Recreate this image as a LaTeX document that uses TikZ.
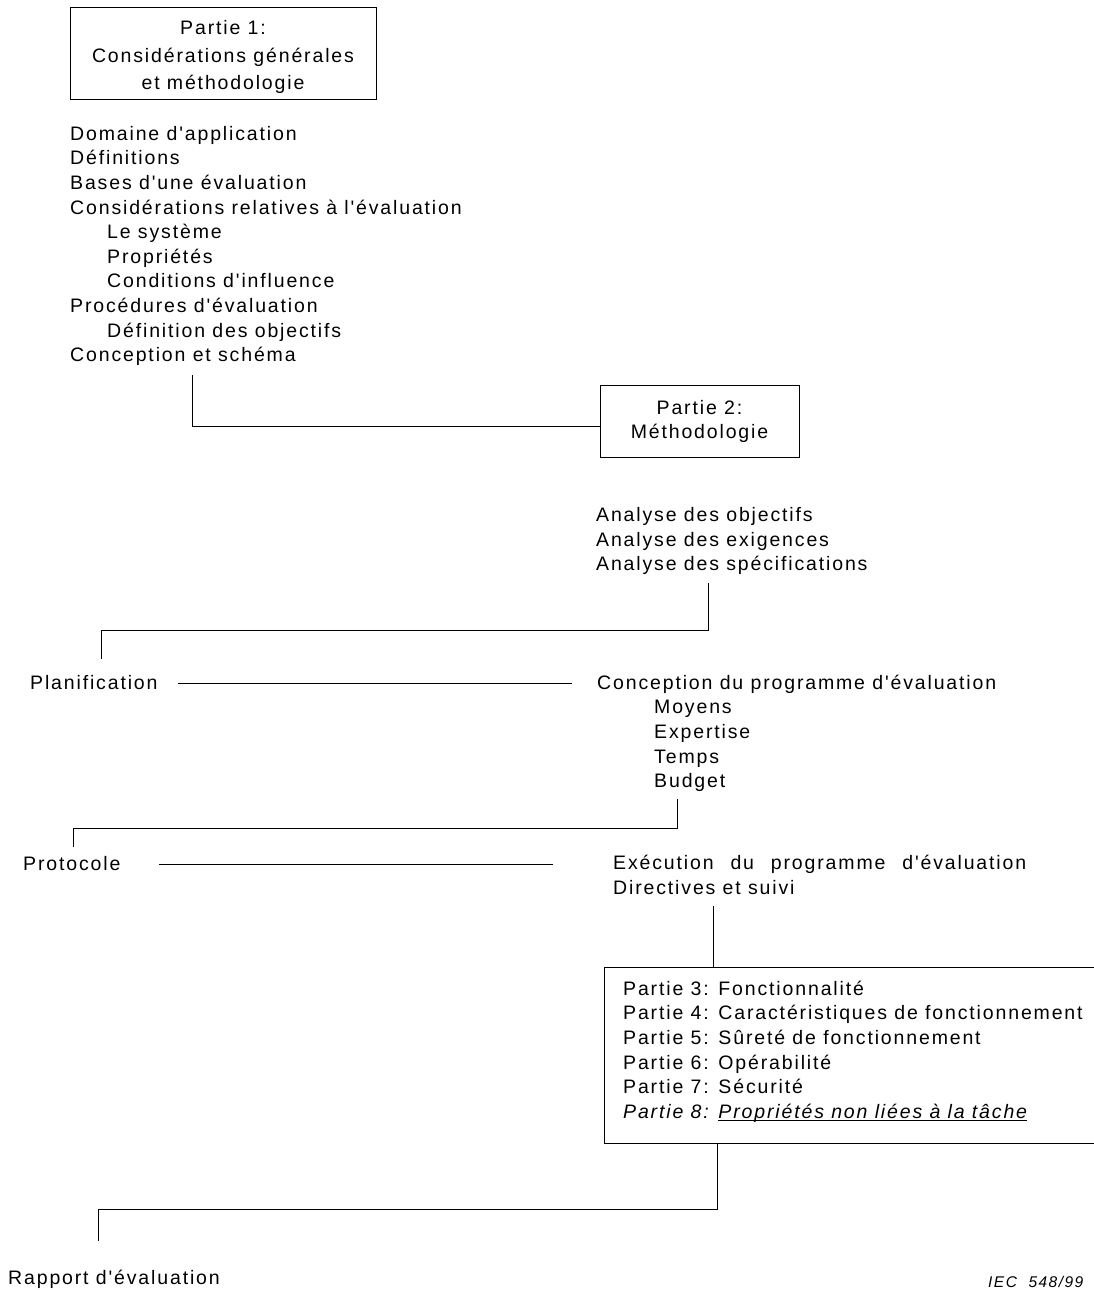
\documentclass[tikz,border=0pt]{standalone}
\usepackage{fontspec}
\setmainfont{Liberation Sans}[LetterSpace=9.5, Ligatures={TeXOff,CommonOff}]
\newcommand\txt{\fontsize{19.5pt}{24.6pt}\selectfont}
\newcommand\boxtxt{\fontsize{19.5pt}{27.2pt}\selectfont}
\newcommand\boxtxtb{\fontsize{19.5pt}{24pt}\selectfont}
\newcommand\iectxt{\fontsize{15.5pt}{18pt}\selectfont}
\newsavebox\myulbox
\newcommand\myul[1]{\sbox\myulbox{#1}\rlap{\rule[-2.8pt]{\wd\myulbox}{0.9pt}}\usebox\myulbox}
\begin{document}
\begin{tikzpicture}[x=1pt,y=-1pt,
  every node/.style={inner sep=0pt, font=\txt, text=black},
  boxshape/.style={draw=black, line width=1pt, rectangle, inner sep=0pt},
  lst/.style={align=left, anchor=base west},
  conn/.style={draw=black, line width=1pt}]
\useasboundingbox (0,0) rectangle (1093,1290);

% Partie 1 (base anchors = baseline of the last line)
\node[boxshape, minimum width=306pt, minimum height=91pt] (p1box) at (223,53.5) {};
\node[align=center, anchor=base, font=\boxtxt] (p1text) at (223,89.4)
  {Partie 1:\\Considérations générales\\et méthodologie};
\node[lst] (list1) at (70,361.7) {Domaine d'application\\Définitions\\Bases d'une évaluation\\Considérations relatives à l'évaluation\\\hspace*{37pt}Le système\\\hspace*{37pt}Propriétés\\\hspace*{37pt}Conditions d'influence\\Procédures d'évaluation\\\hspace*{37pt}Définition des objectifs\\Conception et schéma};

% Partie 2
\node[boxshape, minimum width=199pt, minimum height=72pt] (p2box) at (699.5,421) {};
\node[align=center, anchor=base, font=\boxtxtb] (p2text) at (699.5,438) {Partie 2:\\Méthodologie};
\node[lst] (list2) at (596,570.7) {Analyse des objectifs\\Analyse des exigences\\Analyse des spécifications};

% Planification
\node[lst] (plan) at (30,689.3) {Planification};
\node[lst] (concep) at (597,787.7) {Conception du programme d'évaluation\\\hspace*{57pt}Moyens\\\hspace*{57pt}Expertise\\\hspace*{57pt}Temps\\\hspace*{57pt}Budget};

% Protocole
\node[lst] (proto) at (23,870.5) {Protocole};
\node[lst] (exec) at (613,894.3) {\makebox[413pt][s]{Exécution du programme d'évaluation}\\Directives et suivi};

% Parties 3-8
\node[boxshape, anchor=north west, minimum width=520pt, minimum height=176pt] (p38box) at (604,967) {};
\node[lst] (p38) at (623,1118.3) {Partie 3: Fonctionnalité\\Partie 4: Caractéristiques de fonctionnement\\Partie 5: Sûreté de fonctionnement\\Partie 6: Opérabilité\\Partie 7: Sécurité\\\textit{Partie 8: \myul{Propriétés non liées à la tâche}}};

% Rapport
\node[lst] (rapport) at (8,1284) {Rapport d'évaluation};
\node[anchor=base west, font=\iectxt] (iec) at (988,1287) {\textit{IEC\ \ 548/99}};

% connectors
\coordinate (c1a) at (192,375);
\draw[conn] (c1a) |- ([yshift=-5pt]p2box.west);

\coordinate (c2a) at (708,583);
\coordinate (c2b) at (101,659);
\draw[conn] (c2a) -- ++(0,47) -| (c2b);

\coordinate (pl1) at (178,683);
\coordinate (pl2) at (572,683);
\draw[conn] (pl1) -- (pl2);

\coordinate (c3a) at (677,799);
\coordinate (c3b) at (73,847);
\draw[conn] (c3a) -- ++(0,29) -| (c3b);

\coordinate (pr1) at (159,864);
\coordinate (pr2) at (553,864);
\draw[conn] (pr1) -- (pr2);

\coordinate (c4a) at (713,906);
\draw[conn] (c4a) -- (c4a |- p38box.north);

\coordinate (c5a) at (717,1143);
\coordinate (c5b) at (98,1241);
\draw[conn] (c5a) -- ++(0,66) -| (c5b);
\end{tikzpicture}
\end{document}
